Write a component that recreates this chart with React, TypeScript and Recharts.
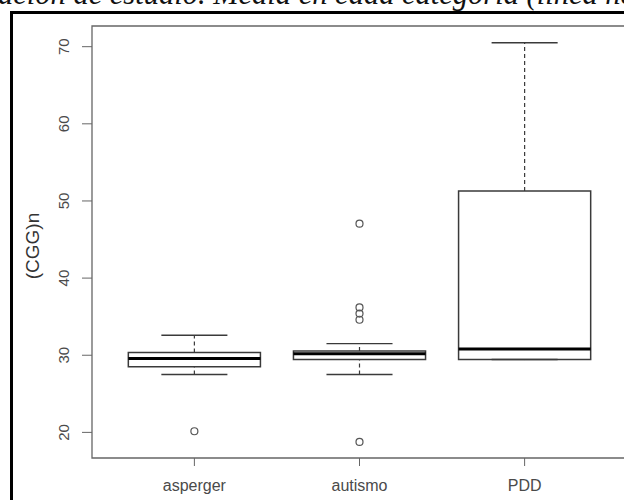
import React from "react";
import {
  ComposedChart,
  XAxis,
  YAxis,
  Scatter,
  ReferenceArea,
  ReferenceLine
} from "recharts";

// categories and five-number summaries
const categories = ["asperger", "autismo", "PDD"];
const lowerWhisker = [27.5, 27.5, 29.44];
const q1 = [28.5, 29.44, 29.44];
const median = [29.57, 30.2, 30.8];
const q3 = [30.35, 30.56, 51.3];
const upperWhisker = [32.6, 31.5, 70.5];
const outliers = [[20.15], [47.06, 36.2, 35.4, 34.6, 18.77], []];

const yTicks = [20, 30, 40, 50, 60, 70];
const yLabel = "(CGG)n";
const captionText = "ación de estudio. Media en cada categoría (línea negra)";

const outlierPoints = outliers.flatMap((vals, i) => vals.map((v) => ({ x: i + 1, y: v })));

const BOX_HALF = 0.4;
const CAP_HALF = 0.2;
const boxStroke = "#3a3a3a";
const sans = "Arial, 'Liberation Sans', sans-serif";

function YTick(props: any) {
  const { x, y, payload } = props;
  return (
    <text
      x={x}
      y={y}
      transform={`rotate(-90, ${x}, ${y})`}
      textAnchor="middle"
      fill="#4a4a4a"
      fontSize={15}
      fontFamily={sans}
    >
      {payload.value}
    </text>
  );
}

function YLabel(props: any) {
  const vb = props.viewBox || { x: 32, y: 26, height: 432 };
  const cx = 38.5;
  const cy = vb.y + vb.height / 2 + 4;
  return (
    <text
      x={cx}
      y={cy}
      transform={`rotate(-90, ${cx}, ${cy})`}
      textAnchor="middle"
      fill="#333"
      fontSize={19}
      fontFamily={sans}
    >
      {yLabel}
    </text>
  );
}

export default function App() {
  return (
    <div
      style={{
        position: "absolute",
        left: 0,
        top: 0,
        width: 624,
        height: 500,
        overflow: "hidden",
        background: "#fff"
      }}
    >
      <div
        style={{
          position: "absolute",
          left: -2,
          top: -23,
          whiteSpace: "nowrap",
          fontFamily: "'Liberation Serif', 'Times New Roman', serif",
          fontStyle: "italic",
          fontSize: 30.5,
          color: "#111"
        }}
      >
        {captionText}
      </div>
      <div
        style={{
          position: "absolute",
          left: 10,
          top: 11,
          width: 700,
          height: 600,
          border: "3.5px solid #000"
        }}
      />
      <div style={{ position: "absolute", left: 0, top: 0 }}>
        <ComposedChart
          width={660}
          height={500}
          margin={{ top: 26, right: 33, bottom: 12, left: 32 }}
        >
          <XAxis
            type="number"
            dataKey="x"
            domain={[0.38, 3.62]}
            ticks={[1, 2, 3]}
            allowDataOverflow
            tickFormatter={(v: number) => categories[v - 1] ?? ""}
            axisLine={false}
            tickLine={{ stroke: "#666" }}
            tickSize={8}
            tickMargin={14}
            height={30}
            tick={{ fill: "#4a4a4a", fontSize: 16, fontFamily: sans }}
          />
          <YAxis
            type="number"
            domain={[16.68, 72.68]}
            ticks={yTicks}
            allowDataOverflow
            axisLine={false}
            tickLine={{ stroke: "#666" }}
            tickSize={10}
            tickMargin={13}
            width={60}
            tick={<YTick />}
            label={<YLabel />}
          />
          {/* plot frame */}
          <ReferenceArea
            x1={0.38}
            x2={3.62}
            y1={16.68}
            y2={72.68}
            fill="none"
            stroke="#666"
            strokeWidth={1.3}
          />
          {categories.map((c, i) => (
            <ReferenceLine
              key={`wu-${c}`}
              segment={[{ x: i + 1, y: q3[i] }, { x: i + 1, y: upperWhisker[i] }]}
              stroke={boxStroke}
              strokeWidth={1.2}
              strokeDasharray="4 3"
            />
          ))}
          {categories.map((c, i) => (
            <ReferenceLine
              key={`wl-${c}`}
              segment={[{ x: i + 1, y: lowerWhisker[i] }, { x: i + 1, y: q1[i] }]}
              stroke={boxStroke}
              strokeWidth={1.2}
              strokeDasharray="4 3"
            />
          ))}
          {categories.map((c, i) => (
            <ReferenceLine
              key={`cu-${c}`}
              segment={[{ x: i + 1 - CAP_HALF, y: upperWhisker[i] }, { x: i + 1 + CAP_HALF, y: upperWhisker[i] }]}
              stroke={boxStroke}
              strokeWidth={1.4}
            />
          ))}
          {categories.map((c, i) => (
            <ReferenceLine
              key={`cl-${c}`}
              segment={[{ x: i + 1 - CAP_HALF, y: lowerWhisker[i] }, { x: i + 1 + CAP_HALF, y: lowerWhisker[i] }]}
              stroke={boxStroke}
              strokeWidth={1.4}
            />
          ))}
          {categories.map((c, i) => (
            <ReferenceArea
              key={`box-${c}`}
              x1={i + 1 - BOX_HALF}
              x2={i + 1 + BOX_HALF}
              y1={q1[i]}
              y2={q3[i]}
              fill="#fff"
              fillOpacity={1}
              stroke={boxStroke}
              strokeWidth={1.5}
            />
          ))}
          {categories.map((c, i) => (
            <ReferenceLine
              key={`med-${c}`}
              segment={[{ x: i + 1 - BOX_HALF, y: median[i] }, { x: i + 1 + BOX_HALF, y: median[i] }]}
              stroke="#000"
              strokeWidth={3}
            />
          ))}
          <Scatter
            data={outlierPoints}
            dataKey="y"
            isAnimationActive={false}
            shape={(p: any) => (
              <circle cx={p.cx} cy={p.cy} r={3.5} fill="none" stroke="#555" strokeWidth={1.2} />
            )}
          />
        </ComposedChart>
      </div>
    </div>
  );
}
